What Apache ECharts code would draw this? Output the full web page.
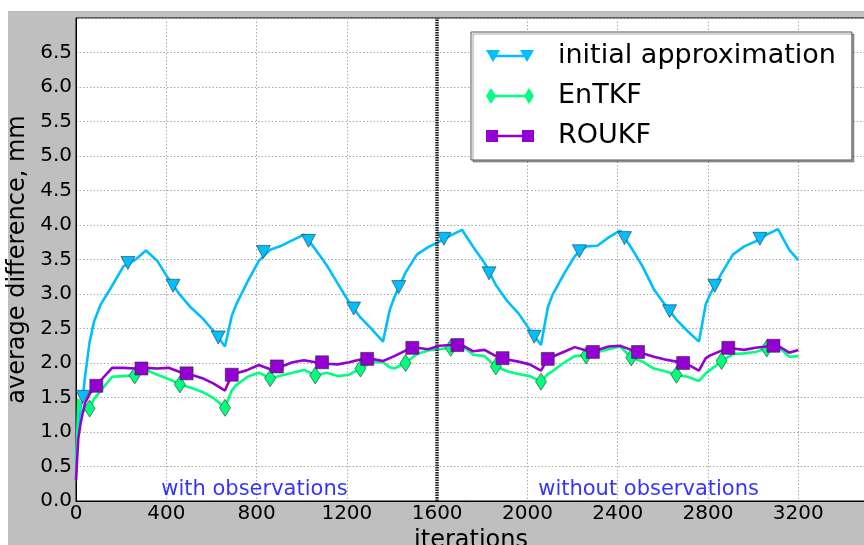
<!DOCTYPE html>
<html>
<head>
<meta charset="utf-8">
<script src="https://cdn.jsdelivr.net/npm/echarts@6/dist/echarts.min.js"></script>
<style>
html,body{margin:0;padding:0;background:#fff;}
#chart{width:864px;height:545px;}
</style>
</head>
<body>
<div id="chart"></div>
<script>
// ---------------- data ----------------
const iterations = [0,10,20,30,40,60,80,110,160,210,260,310,360,410,460,510,560,610,660,690,710,760,810,860,910,960,1010,1060,1110,1160,1210,1260,1310,1360,1390,1410,1460,1510,1560,1610,1660,1710,1760,1810,1860,1910,1960,2010,2060,2090,2110,2160,2210,2260,2310,2360,2410,2460,2510,2560,2610,2660,2710,2760,2790,2810,2860,2910,2960,3010,3060,3110,3160,3200];

const approxValues = [0.6,1.1,1.35,1.51,1.8,2.3,2.6,2.85,3.12,3.4,3.49,3.63,3.48,3.22,2.99,2.8,2.65,2.46,2.24,2.68,2.85,3.18,3.48,3.64,3.7,3.78,3.86,3.65,3.42,3.15,2.88,2.66,2.49,2.31,2.77,2.95,3.31,3.57,3.68,3.76,3.85,3.93,3.68,3.45,3.13,2.9,2.72,2.48,2.26,2.8,2.98,3.28,3.55,3.69,3.7,3.82,3.92,3.67,3.4,3.07,2.84,2.63,2.46,2.31,2.85,3.0,3.3,3.57,3.69,3.76,3.86,3.94,3.64,3.49];

const entkfValues = [0.3,1.48,1.32,1.3,1.32,1.34,1.48,1.6,1.8,1.81,1.82,1.9,1.83,1.77,1.69,1.64,1.58,1.49,1.35,1.6,1.68,1.8,1.86,1.78,1.82,1.86,1.9,1.82,1.86,1.81,1.83,1.92,2.01,2.01,1.94,1.92,2.0,2.13,2.18,2.2,2.22,2.25,2.12,2.1,1.95,1.88,1.84,1.81,1.73,1.84,1.88,2.0,2.1,2.11,2.16,2.2,2.24,2.08,2.02,1.92,1.88,1.83,1.8,1.74,1.85,1.9,2.03,2.13,2.14,2.16,2.21,2.24,2.09,2.1];

const roukfValues = [0.3,0.9,1.12,1.28,1.42,1.55,1.64,1.75,1.93,1.93,1.92,1.93,1.92,1.93,1.87,1.83,1.78,1.7,1.6,1.83,1.85,1.9,1.97,1.91,1.95,2.01,2.04,2.01,1.99,1.98,2.01,2.05,2.06,2.03,2.07,2.1,2.18,2.22,2.2,2.25,2.26,2.26,2.17,2.19,2.1,2.05,2.02,1.98,1.89,2.06,2.09,2.16,2.23,2.18,2.19,2.24,2.25,2.19,2.14,2.09,2.05,2.02,1.98,1.89,2.07,2.11,2.18,2.21,2.19,2.22,2.24,2.25,2.15,2.19];

// markers (every 200 iterations, different offsets)
const approxMarkIter = [30,230,430,630,830,1030,1230,1430,1630,1830,2030,2230,2430,2630,2830,3030];
const approxMarkVal  = [1.51,3.45,3.12,2.37,3.61,3.77,2.79,3.1,3.8,3.3,2.38,3.62,3.81,2.75,3.12,3.8];
const entkfMarkIter  = [60,260,460,660,860,1060,1260,1460,1660,1860,2060,2260,2460,2660,2860,3060];
const entkfMarkVal   = [1.34,1.82,1.69,1.35,1.78,1.82,1.92,2.0,2.22,1.95,1.73,2.11,2.08,1.83,2.03,2.21];
const roukfMarkIter  = [90,290,490,690,890,1090,1290,1490,1690,1890,2090,2290,2490,2690,2890,3090];
const roukfMarkVal   = [1.67,1.92,1.85,1.83,1.95,2.01,2.06,2.22,2.26,2.07,2.06,2.16,2.16,2.0,2.22,2.25];

const seriesNames = ['initial approximation','EnTKF','ROUKF'];
const dividerIter = 1600;
const annotationText = ['with observations','without observations'];
const annotationIter = [380, 2050];
const annotationVal  = [0.16, 0.16];

const xTicks = {min:0, max:3500, interval:400};
const yTicks = {min:0, max:7, interval:0.5};

// ---------------- chart ----------------
const colors = ['#00bfff','#00ff7f','#9400d3'];
const FONT = 'DejaVu Sans';
const zip = (xs, ys) => xs.map((x,i) => [x, ys[i]]);

const iconTri = 'path://M24,0L24.01,0Z M24,16L24.01,16Z M0,2L14,2L7,14Z M34,2L48,2L41,14Z M7,6.8L41,6.8L41,9.2L7,9.2Z';
const iconDia = 'path://M5,0L10,8L5,16L0,8Z M43,0L48,8L43,16L38,8Z M5,6.8L43,6.8L43,9.2L5,9.2Z';
const iconSq  = 'path://M24,0L24.01,0Z M24,16L24.01,16Z M0,2L12,2L12,14L0,14Z M36,2L48,2L48,14L36,14Z M12,6.8L36,6.8L36,9.2L12,9.2Z';

function lineSeries(name, vals, color, z, extra) {
  return Object.assign({
    name: name, type: 'line', data: zip(iterations, vals),
    symbol: 'none', smooth: false, z: z,
    lineStyle: {color: color, width: 2.6},
    itemStyle: {color: color},
    emphasis: {disabled: true}, animation: false
  }, extra || {});
}
function markerSeries(name, xs, ys, color, symbol, size, z, rotate) {
  return {
    name: name, type: 'scatter', data: zip(xs, ys),
    symbol: symbol, symbolSize: size, symbolRotate: rotate || 0, z: z,
    itemStyle: {color: color, borderColor: 'rgba(40,40,40,0.8)', borderWidth: 0.7, opacity: 1},
    emphasis: {disabled: true}, animation: false
  };
}

const chart = echarts.init(document.getElementById('chart'), null, {renderer: 'canvas'});
const option = {
  backgroundColor: '#ffffff',
  animation: false,
  textStyle: {fontFamily: FONT},
  graphic: [{
    type: 'rect', z: -10, silent: true,
    shape: {x: 8, y: 11, width: 900, height: 600},
    style: {fill: '#bfbfbf'}
  }],
  grid: {
    left: 76, top: 18, width: 790, height: 483,
    outerBoundsMode: 'none', containLabel: false,
    show: true, backgroundColor: '#ffffff', borderColor: '#000', borderWidth: 1
  },
  xAxis: {
    type: 'value', min: xTicks.min, max: xTicks.max, interval: xTicks.interval,
    name: 'iterations', nameLocation: 'middle', nameGap: 25,
    nameTextStyle: {fontSize: 24, color: '#000', fontFamily: FONT},
    axisLine: {show: true, lineStyle: {color: '#000', width: 1}},
    axisTick: {show: false},
    axisLabel: {fontSize: 20, color: '#000', margin: 3, fontFamily: FONT, showMaxLabel: false,
      formatter: v => String(v)},
    splitLine: {show: true, lineStyle: {color: '#a8a8a8', width: 1, type: [1.5, 2]}}
  },
  yAxis: {
    type: 'value', min: yTicks.min, max: yTicks.max, interval: yTicks.interval,
    name: 'average difference, mm', nameLocation: 'middle', nameRotate: 90, nameGap: 38,
    nameTextStyle: {fontSize: 24, color: '#000', fontFamily: FONT},
    axisLine: {show: true, lineStyle: {color: '#000', width: 1}},
    axisTick: {show: false},
    axisLabel: {fontSize: 20, color: '#000', margin: 4, fontFamily: FONT, showMaxLabel: false,
      formatter: v => v.toFixed(1)},
    splitLine: {show: true, lineStyle: {color: '#a8a8a8', width: 1, type: [1.5, 2]}}
  },
  legend: {
    orient: 'vertical', left: 471, top: 32,
    padding: [9, 16, 9, 15], itemGap: 10,
    itemWidth: 48, itemHeight: 16, symbolKeepAspect: false,
    backgroundColor: '#fff', borderColor: '#555', borderWidth: 1,
    shadowColor: 'rgba(0,0,0,0.35)', shadowOffsetX: 2, shadowOffsetY: 2, shadowBlur: 0,
    itemStyle: {borderWidth: 0},
    textStyle: {fontSize: 27, color: '#000', fontFamily: FONT, lineHeight: 30, padding: [0,0,0,19]},
    selectedMode: false,
    data: [
      {name: seriesNames[0], icon: iconTri},
      {name: seriesNames[1], icon: iconDia},
      {name: seriesNames[2], icon: iconSq}
    ]
  },
  series: [
    lineSeries(seriesNames[0], approxValues, colors[0], 2, {
      markLine: {
        silent: true, symbol: ['none','none'], label: {show: false},
        lineStyle: {color: '#222', width: 3.5, type: [1.5, 1]},
        data: [{xAxis: dividerIter}], animation: false
      }
    }),
    markerSeries('approx markers', approxMarkIter, approxMarkVal, colors[0], 'triangle', [14, 13], 3, 180),
    lineSeries(seriesNames[1], entkfValues, colors[1], 4),
    markerSeries('entkf markers', entkfMarkIter, entkfMarkVal, colors[1], 'diamond', [11, 17], 5),
    lineSeries(seriesNames[2], roukfValues, colors[2], 6),
    markerSeries('roukf markers', roukfMarkIter, roukfMarkVal, colors[2], 'rect', [13, 13], 7),
    {
      name: 'annotations', type: 'scatter', z: 8, silent: true,
      data: annotationIter.map((x, i) => [x, annotationVal[i], annotationText[i]]),
      symbol: 'circle', symbolSize: 1, itemStyle: {color: 'rgba(0,0,0,0)'},
      label: {show: true, position: [0, 0], align: 'left', verticalAlign: 'middle',
        formatter: p => p.data[2], fontSize: 21, color: '#0000ff', fontFamily: FONT},
      animation: false
    }
  ]
};
chart.setOption(option);
</script>
</body>
</html>
